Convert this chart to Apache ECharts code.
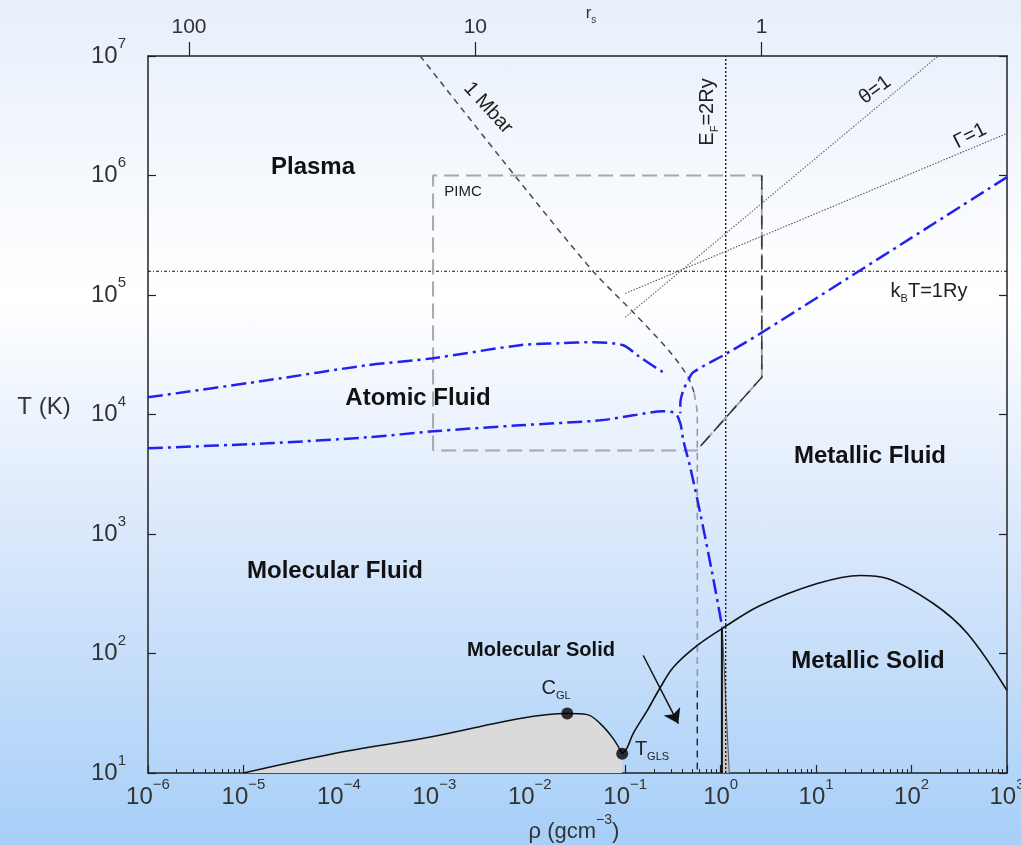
<!DOCTYPE html>
<html>
<head>
<meta charset="utf-8">
<script src="https://cdn.jsdelivr.net/npm/echarts@6/dist/echarts.min.js"></script>
<style>
  html, body { margin: 0; padding: 0; }
  body {
    width: 1021px; height: 845px; overflow: hidden;
    background: linear-gradient(to bottom, #e7effb 0%, #ffffff 35%, #dce9fb 62%, #a7cff8 100%);
  }
  #chart { width: 1021px; height: 845px; }
</style>
</head>
<body>
<div id="chart"></div>
<script>
// Hydrogen phase diagram: temperature T (K) versus mass density rho (g/cm^3)

// top axis: Wigner-Seitz radius r_s; rho where r_s = 1 for hydrogen
const rsTicks = [100, 10, 1];
const rhoAtRs1 = 2.69;

// characteristic lines
const kT1Ry = 1.58e5;          // k_B T = 1 Ry
const rhoEF2Ry = 1.13;         // E_F = 2 Ry
const thetaLine = [[0.1, 6.5e4], [190, 1.0e7]];
const gammaLine = [[0.1, 1.03e5], [1000, 2.25e6]];

// 1 Mbar isobar
const mbarIsobar = [[7.1e-4, 1.0e7], [7.03e-3, 9.9e5], [0.0451, 1.61e5], [0.121, 7.18e4],
                    [0.296, 3.32e4], [0.457, 2.05e4], [0.528, 1.51e4]];
const mbarLower = [[0.528, 1.51e4], [0.569, 9840], [0.569, 49]];
const mbarFoot = [[0.569, 49], [0.569, 10]];

// PIMC region
const pimcBox = [[9.7e-4, 5000], [9.7e-4, 1.0e6], [2.7, 1.0e6], [2.7, 2.05e4], [0.56, 5000], [9.7e-4, 5000]];
const pimcEdge = [[2.7, 1.0e6], [2.7, 2.05e4], [0.56, 5000]];

// blue transition lines
const upperBoundary = [[1e-6, 13930], [1.77e-5, 19320], [1.98e-4, 25820], [9.7e-4, 29580],
                       [7.9e-3, 38020], [0.0208, 39450], [0.0462, 40270], [0.0953, 38020],
                       [0.134, 31330], [0.250, 22540], [0.275, 22130]];
const metallicBranch = [[1000, 9.7e5], [2.73, 48750], [1.17, 32580], [0.516, 22540],
                        [0.457, 19320], [0.406, 15960], [0.378, 12420], [0.378, 10230]];
const lowerBoundary = [[1e-6, 5212], [1.77e-5, 5741], [1.98e-4, 6442], [9.7e-4, 7229],
                       [7.9e-3, 8128], [0.0547, 8933], [0.121, 9840], [0.25, 10640],
                       [0.334, 10230], [0.378, 8433], [0.406, 6081], [0.48, 3614],
                       [0.611, 1489], [0.817, 467.7], [1.04, 165]];

// melting curve
const meltingCurve = [[0.093, 14.5], [0.105, 16.3], [0.121, 21.4], [0.170, 33.3], [0.233, 51.9],
                      [0.318, 76.4], [0.569, 116.7], [1.04, 162], [2.60, 252], [10.3, 385],
                      [29.0, 450], [55.7, 425], [169, 262], [385, 147], [1000, 49]];

// gas-liquid coexistence
const coexistence = [[1.0e-5, 10], [8.69e-5, 14.5], [9.7e-4, 20.2], [7.9e-3, 28.6],
                     [0.0247, 31.4], [0.040, 30.8], [0.0547, 25.9], [0.0748, 19.4], [0.093, 14.5]];
const coexistenceFloor = [0.093, 10];
const criticalPoints = [[0.0247, 31.4], [0.093, 14.5]];

// narrow solid wedge at rho ~ 1
const wedgeEdge = [[1.04, 162], [1.23, 10]];
const wedgeSpine = [[1.03, 162], [1.03, 10]];

// arrow pointing to the molecular solid
const arrowFrom = [0.1545, 96.2];
const arrowTo = [0.36, 25.9];

const FONT = '"Liberation Sans", Arial, sans-serif';
const AX = '#222';
const TXT = '#333';
const BLUE = '#2222ee';
const BLUE_DASH = [15, 5, 3, 5];

function pow10Label(v) {
  const n = Math.round(Math.log10(v));
  return '{b|10}{e|' + (n < 0 ? '\u2212' + (-n) : String(n)) + '}';
}
const tickRich = {
  b: { fontSize: 24, fontFamily: FONT, color: TXT, padding: [8, 0, 8, 0] },
  e: { fontSize: 15, fontFamily: FONT, color: TXT, verticalAlign: 'top' }
};

function line(data, color, width, type, extra) {
  return Object.assign({
    type: 'line', data: data, symbol: 'none', showSymbol: false, silent: true,
    lineStyle: { color: color, width: width, type: type },
    xAxisIndex: 0, yAxisIndex: 0, z: 3
  }, extra || {});
}

function label(x, y, text, opt) {
  opt = opt || {};
  return {
    type: 'text', x: x, y: y, rotation: opt.rotation || 0, silent: true, z: 50,
    style: {
      text: text, align: 'center', verticalAlign: 'middle',
      fontFamily: FONT, fontSize: opt.size || 20, fontWeight: opt.bold ? 'bold' : 'normal',
      fill: opt.color || '#111', rich: opt.rich
    }
  };
}
function subRich(size, subSize, color) {
  return {
    m: { fontSize: size, fontFamily: FONT, fill: color, padding: [0, 0, Math.round(size * 0.15), 0] },
    s: { fontSize: subSize, fontFamily: FONT, fill: color, verticalAlign: 'bottom' }
  };
}

const rsRho = rsTicks.map(function (rs) { return rhoAtRs1 / Math.pow(rs, 3); });

const chart = echarts.init(document.getElementById('chart'), null, { renderer: 'canvas' });

chart.setOption({
  backgroundColor: 'transparent',
  animation: false,
  grid: { left: 148, top: 56, width: 859, height: 717, containLabel: false, outerBoundsMode: 'none' },
  xAxis: [
    {
      type: 'log', logBase: 10, min: 1e-6, max: 1e3, position: 'bottom',
      axisLine: { show: true, onZero: false, lineStyle: { color: AX, width: 1.5 } },
      axisTick: { show: true, inside: true, length: 8, lineStyle: { color: AX, width: 1.2 } },
      minorTick: { show: true, splitNumber: 9, length: 4, lineStyle: { color: AX, width: 1 } },
      splitLine: { show: false }, minorSplitLine: { show: false },
      axisLabel: { formatter: pow10Label, margin: 4, rich: tickRich, showMinLabel: true, showMaxLabel: true, hideOverlap: false }
    },
    {
      type: 'log', logBase: 10, min: 1e-6, max: 1e3, position: 'top',
      axisLine: { show: true, onZero: false, lineStyle: { color: AX, width: 1.5 } },
      axisTick: { show: true, inside: false, length: 14, customValues: rsRho, lineStyle: { color: AX, width: 1.2 } },
      axisLabel: {
        customValues: rsRho, margin: 18, fontSize: 21, fontFamily: FONT, color: TXT,
        formatter: function (v) { return String(Math.round(Math.cbrt(rhoAtRs1 / v))); }
      },
      splitLine: { show: false }
    }
  ],
  yAxis: [
    {
      type: 'log', logBase: 10, min: 10, max: 1e7, position: 'left',
      axisLine: { show: true, onZero: false, lineStyle: { color: AX, width: 1.5 } },
      axisTick: { show: true, inside: true, length: 8, lineStyle: { color: AX, width: 1.2 } },
      splitLine: { show: false },
      axisLabel: { formatter: pow10Label, margin: 22, rich: tickRich, showMinLabel: true, showMaxLabel: true, hideOverlap: false }
    },
    {
      type: 'log', logBase: 10, min: 10, max: 1e7, position: 'right',
      axisLine: { show: true, onZero: false, lineStyle: { color: AX, width: 1.5 } },
      axisTick: { show: true, inside: true, length: 8, lineStyle: { color: AX, width: 1.2 } },
      axisLabel: { show: false }, splitLine: { show: false }
    }
  ],
  series: [
    // gas-liquid coexistence region (fill)
    line(coexistence.concat([coexistenceFloor]), '#000', 0, 'solid',
      { lineStyle: { width: 0, opacity: 0 }, areaStyle: { color: '#dadada', opacity: 1, origin: 'start' }, smooth: 0.35, z: 1 }),
    // solid wedge
    line(wedgeEdge, '#555', 1, 'solid', { areaStyle: { color: '#c8c8c8', opacity: 1, origin: 'start' }, z: 1 }),
    line(wedgeSpine, '#111', 2, 'solid'),
    // characteristic lines
    line([[1e-6, kT1Ry], [1e3, kT1Ry]], '#111', 1.2, [3, 2, 1, 2]),
    line([[rhoEF2Ry, 10], [rhoEF2Ry, 1e7]], '#111', 1.3, [2, 2]),
    line(thetaLine, '#666', 1.1, [1.5, 1.5]),
    line(gammaLine, '#555', 1.1, [1.5, 1.5]),
    // PIMC region
    line(pimcBox, '#a8a8a8', 2, [15, 7]),
    line(pimcEdge, '#2a2a2a', 1.4, [14, 6]),
    // 1 Mbar isobar
    line(mbarIsobar, '#4a4a4a', 1.5, [6, 5], { smooth: 0.3 }),
    line(mbarLower, '#9a9a9a', 1.6, [7, 5], { smooth: 0.3 }),
    line(mbarFoot, '#222', 1.4, [7, 5]),
    // melting curve
    line(meltingCurve, '#111', 1.6, 'solid', { smooth: 0.35, z: 4 }),
    // coexistence boundary with arrow
    line(coexistence, '#111', 1.5, 'solid', {
      smooth: 0.35, z: 4,
      markLine: {
        silent: true, symbol: ['none', 'arrow'], symbolSize: 14, animation: false,
        itemStyle: { color: '#111' },
        label: { show: false }, lineStyle: { color: '#111', width: 1.5, type: 'solid', opacity: 1 },
        emphasis: { disabled: true },
        data: [[{ coord: arrowFrom }, { coord: arrowTo }]]
      }
    }),
    // blue transition lines
    line(upperBoundary, BLUE, 2.5, BLUE_DASH, { smooth: 0.3, z: 5 }),
    line(metallicBranch, BLUE, 2.5, BLUE_DASH, { smooth: 0.3, z: 5 }),
    line(lowerBoundary, BLUE, 2.5, BLUE_DASH, { smooth: 0.3, z: 5 }),
    // critical point and triple point
    {
      type: 'scatter', data: criticalPoints, symbol: 'circle', symbolSize: 12, silent: true,
      itemStyle: { color: '#000' }, xAxisIndex: 0, yAxisIndex: 0, z: 6
    }
  ],
  graphic: [
    label(313, 167, 'Plasma', { size: 24, bold: true }),
    label(418, 398, 'Atomic Fluid', { size: 24, bold: true }),
    label(335, 571, 'Molecular Fluid', { size: 24, bold: true }),
    label(870, 456, 'Metallic Fluid', { size: 24, bold: true }),
    label(868, 661, 'Metallic Solid', { size: 24, bold: true }),
    label(541, 650, 'Molecular Solid', { size: 20, bold: true }),
    label(463, 192, 'PIMC', { size: 15, color: '#222' }),
    label(488, 108, '1 Mbar', { size: 20, color: '#222', rotation: -0.83 }),
    label(709, 112, '{m|E}{s|F}{m|=2Ry}', { rotation: Math.PI / 2, rich: subRich(20, 11, '#222') }),
    label(875, 90, '\u03b8=1', { size: 20, color: '#222', rotation: 0.63 }),
    label(970, 136, '\u0393=1', { size: 20, color: '#222', rotation: 0.47 }),
    label(929, 293, '{m|k}{s|B}{m|T=1Ry}', { rich: subRich(20, 11, '#222') }),
    label(556, 690, '{m|C}{s|GL}', { rich: subRich(20, 11, '#222') }),
    label(652, 751, '{m|T}{s|GLS}', { rich: subRich(20, 11, '#222') }),
    label(44, 407, 'T (K)', { size: 24, color: TXT }),
    label(574, 828, '{m|\u03c1 (gcm}{s|\u22123}{m|)}', {
      rich: {
        m: { fontSize: 22, fontFamily: FONT, fill: TXT, padding: [7, 0, 0, 0] },
        s: { fontSize: 14, fontFamily: FONT, fill: TXT, verticalAlign: 'top' }
      }
    }),
    label(591, 15, '{m|r}{s|s}', { rich: subRich(17, 10, TXT) })
  ]
});
</script>
</body>
</html>
